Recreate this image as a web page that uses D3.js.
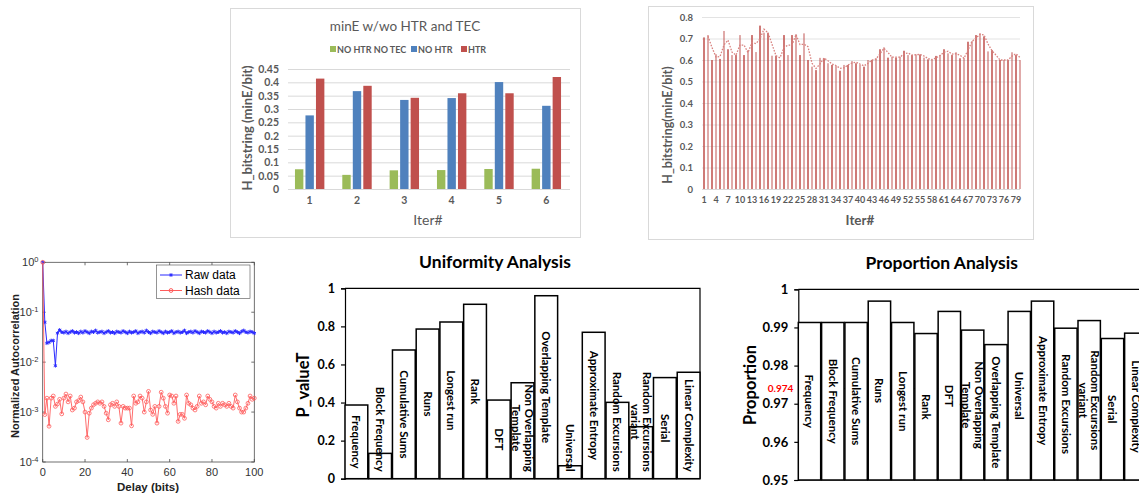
<!DOCTYPE html>
<html>
<head>
<meta charset="utf-8">
<script src="https://cdn.jsdelivr.net/npm/d3@7"></script>
<style>
  body { margin: 0; background: #fff; }
  svg { display: block; }
  .xl text { font-family: Lato, "Open Sans", sans-serif; }
  .ml text { font-family: "Liberation Sans", Arial, sans-serif; }
</style>
</head>
<body>
<svg id="fig" width="1139" height="495"></svg>
<script>
// ---- panel A : minE w/wo HTR and TEC
const minEIters = ['1', '2', '3', '4', '5', '6'];
const minESeriesNames = ['NO HTR NO TEC', 'NO HTR', 'HTR'];
const minENoHtrNoTec = [0.074, 0.053, 0.070, 0.071, 0.075, 0.076];
const minENoHtr = [0.276, 0.367, 0.334, 0.341, 0.401, 0.312];
const minEHtr = [0.414, 0.387, 0.342, 0.359, 0.359, 0.420];
const minETicks = [0, 0.05, 0.1, 0.15, 0.2, 0.25, 0.3, 0.35, 0.4, 0.45];

// ---- panel B : H_bitstring per iteration with HTR
const htrIters = d3.range(1, 81);
const htrMinE = [
  0.705, 0.716, 0.600, 0.627, 0.605, 0.735, 0.650, 0.623, 0.623, 0.716,
  0.623, 0.646, 0.716, 0.637, 0.760, 0.727, 0.727, 0.620, 0.620, 0.600,
  0.716, 0.623, 0.716, 0.720, 0.623, 0.724, 0.600, 0.569, 0.553, 0.610,
  0.608, 0.585, 0.577, 0.572, 0.550, 0.577, 0.577, 0.595, 0.585, 0.577,
  0.569, 0.600, 0.600, 0.608, 0.650, 0.659, 0.611, 0.615, 0.611, 0.615,
  0.643, 0.623, 0.623, 0.626, 0.626, 0.611, 0.603, 0.600, 0.619, 0.623,
  0.650, 0.631, 0.623, 0.636, 0.608, 0.608, 0.685, 0.688, 0.716, 0.724,
  0.710, 0.640, 0.646, 0.600, 0.600, 0.600, 0.600, 0.636, 0.623, 0.600
];
const htrTicks = [0, 0.1, 0.2, 0.3, 0.4, 0.5, 0.6, 0.7, 0.8];
const htrIterLabels = [1, 4, 7, 10, 13, 16, 19, 22, 25, 28, 31, 34, 37, 40, 43, 46, 49, 52, 55, 58, 61, 64, 67, 70, 73, 76, 79];

// ---- panel C : autocorrelation
const acDelays = d3.range(0, 101);
const acRaw = [
  1, 0.063, 0.024, 0.025, 0.027, 0.027, 0.0085, 0.038, 0.044,
  0.040, 0.039, 0.041, 0.038, 0.040, 0.042, 0.039, 0.040, 0.038, 0.041,
  0.039, 0.042, 0.040, 0.038, 0.041, 0.040, 0.043, 0.039, 0.040, 0.041,
  0.038, 0.040, 0.042, 0.039, 0.040, 0.038, 0.041, 0.040, 0.039, 0.042,
  0.040, 0.038, 0.041, 0.039, 0.040, 0.042, 0.038, 0.040, 0.041, 0.039,
  0.043, 0.040, 0.038, 0.041, 0.040, 0.039, 0.042, 0.040, 0.038, 0.041,
  0.039, 0.040, 0.042, 0.038, 0.040, 0.041, 0.039, 0.040, 0.043, 0.038,
  0.040, 0.041, 0.039, 0.042, 0.040, 0.038, 0.041, 0.040, 0.039, 0.042,
  0.040, 0.038, 0.041, 0.039, 0.040, 0.042, 0.039, 0.040, 0.038, 0.041,
  0.040, 0.039, 0.042, 0.040, 0.038, 0.041, 0.043, 0.040, 0.039, 0.041,
  0.040, 0.038
];
const acHash = [
  1,
  0.00089, 0.0019, 0.00052, 0.0019, 0.0021, 0.0013, 0.00145, 0.0018, 0.00092, 0.0019,
  0.0023, 0.0016, 0.0021, 0.0011, 0.0012, 0.0016, 0.0017, 0.0020, 0.0016, 0.0010,
  0.00031, 0.00095, 0.0012, 0.0014, 0.0015, 0.0016, 0.0015, 0.0016, 0.0013, 0.00095,
  0.0007, 0.0014, 0.0015, 0.0013, 0.0016, 0.0013, 0.0006, 0.0013, 0.0012, 0.0012,
  0.0012, 0.00053, 0.0021, 0.0015, 0.0016, 0.0021, 0.0019, 0.0010, 0.0016, 0.0026,
  0.0011, 0.0009, 0.0013, 0.0006, 0.0013, 0.0025, 0.0019, 0.0013, 0.00095, 0.0022,
  0.0021, 0.0015, 0.0021, 0.00065, 0.0009, 0.0009, 0.00075, 0.0022, 0.0015, 0.0014,
  0.0012, 0.0011, 0.0013, 0.0021, 0.0015, 0.0016, 0.0014, 0.0021, 0.0018, 0.0016,
  0.0013, 0.0012, 0.0015, 0.0013, 0.0015, 0.0014, 0.0013, 0.0015, 0.0013, 0.0012,
  0.0022, 0.0016, 0.0012, 0.0010, 0.0010, 0.0012, 0.0015, 0.0021, 0.0018, 0.0019
];
const acXTicks = [0, 20, 40, 60, 80, 100];
const acYExps = [-4, -3, -2, -1, 0];

// ---- panels D/E : NIST tests
const nistTests = ['Frequency', 'Block Frequency', 'Cumulative Sums', 'Runs', 'Longest run', 'Rank', 'DFT',
  'Non Overlapping Template', 'Overlapping Template', 'Universal', 'Approximate Entropy',
  'Random Excursions', 'Random Excursions variant', 'Serial', 'Linear Complexity'];
const nistWrapped = {
  'Non Overlapping Template': ['Non Overlapping', 'Template'],
  'Random Excursions variant': ['Random Excursions', 'variant']
};
const uniformityP = [0.387, 0.133, 0.676, 0.786, 0.823, 0.916, 0.413, 0.504, 0.961, 0.068, 0.769, 0.401, 0.273, 0.531, 0.559];
const uniformityTicks = [0, 0.2, 0.4, 0.6, 0.8, 1];
const proportion = [0.9913, 0.9913, 0.9913, 0.9969, 0.9913, 0.9884, 0.9942, 0.9893, 0.9855, 0.9942, 0.9969, 0.9898, 0.9918, 0.9871, 0.9885];
const proportionTicks = [0.95, 0.96, 0.97, 0.98, 0.99, 1];
const proportionMin = 0.974;

const svg = d3.select('#fig');
const excelGray = '#595959';

function drawMinE() {
  const g = svg.append('g').attr('class', 'xl');
  g.append('rect')
    .attr('x', 230.5).attr('y', 8.5).attr('width', 350).attr('height', 229)
    .attr('fill', '#fff').attr('stroke', '#d9d9d9');

  const x0 = d3.scaleBand().domain(minEIters).range([286, 570]);
  const x1 = d3.scaleBand().domain(minESeriesNames).range([-14.7, 14.7]).paddingInner(0.2);
  const y = d3.scaleLinear().domain([0, 0.45]).range([189, 69]);
  const color = d3.scaleOrdinal().domain(minESeriesNames).range(['#9bbb59', '#4f81bd', '#c0504d']);

  // grid
  g.append('g')
    .attr('transform', 'translate(288,0)')
    .call(d3.axisLeft(y).tickValues(minETicks).tickSize(-282).tickFormat(''))
    .call(a => a.select('.domain').remove())
    .call(a => a.selectAll('line').attr('stroke', '#d9d9d9'));

  g.append('g')
    .attr('transform', 'translate(288,0)')
    .call(d3.axisLeft(y).tickValues(minETicks).tickSize(0).tickPadding(9).tickFormat(d => String(d)))
    .call(a => a.select('.domain').remove())
    .call(a => a.selectAll('text').attr('fill', excelGray).style('font-size', '10.5px').style('font-weight', 'bold'));

  const series = [minENoHtrNoTec, minENoHtr, minEHtr];
  minESeriesNames.forEach((name, s) => {
    g.append('g').selectAll('rect')
      .data(series[s])
      .join('rect')
      .attr('x', (d, i) => x0(minEIters[i]) + x0.bandwidth() / 2 + x1(name))
      .attr('width', x1.bandwidth())
      .attr('y', d => y(d))
      .attr('height', d => y(0) - y(d))
      .attr('fill', color(name));
  });

  g.append('g')
    .attr('transform', 'translate(0,189)')
    .call(d3.axisBottom(x0).tickSize(0).tickPadding(8))
    .call(a => a.select('.domain').attr('stroke', '#d9d9d9').attr('d', 'M288,0.5H570'))
    .call(a => a.selectAll('text').attr('fill', excelGray).style('font-size', '10.5px').style('font-weight', 'bold'));

  g.append('text')
    .attr('x', 405).attr('y', 31)
    .attr('text-anchor', 'middle').attr('fill', excelGray)
    .style('font-size', '13.5px')
    .text('minE w/wo HTR and TEC');

  // legend
  const legX = [330, 411, 461];
  minESeriesNames.forEach((name, s) => {
    g.append('rect').attr('x', legX[s]).attr('y', 46).attr('width', 6).attr('height', 6).attr('fill', color(name));
    g.append('text').attr('x', legX[s] + 7).attr('y', 52.5)
      .attr('fill', excelGray).style('font-size', '9px').style('font-weight', 'bold')
      .text(name);
  });

  g.append('text')
    .attr('transform', 'translate(252,128) rotate(-90)')
    .attr('text-anchor', 'middle').attr('fill', excelGray)
    .style('font-size', '13px').style('font-weight', 'bold')
    .text('H_bitstring (minE/bit)');

  g.append('text')
    .attr('x', 428).attr('y', 225)
    .attr('text-anchor', 'middle').attr('fill', excelGray)
    .style('font-size', '14px')
    .text('Iter#');
}

function drawHtr() {
  const g = svg.append('g').attr('class', 'xl');
  g.append('rect')
    .attr('x', 648.5).attr('y', 6.5).attr('width', 385).attr('height', 233)
    .attr('fill', '#fff').attr('stroke', '#d9d9d9');

  const x = d3.scaleBand().domain(htrIters).range([702, 1022]);
  const y = d3.scaleLinear().domain([0, 0.8]).range([189, 17]);

  g.append('g')
    .attr('transform', 'translate(702,0)')
    .call(d3.axisLeft(y).tickValues(htrTicks).tickSize(-318).tickFormat(''))
    .call(a => a.select('.domain').remove())
    .call(a => a.selectAll('line').attr('stroke', '#e3e3e3'));

  g.append('g')
    .attr('transform', 'translate(702,0)')
    .call(d3.axisLeft(y).tickValues(htrTicks).tickSize(0).tickPadding(9).tickFormat(d => String(d)))
    .call(a => a.select('.domain').remove())
    .call(a => a.selectAll('text').attr('fill', excelGray).style('font-size', '9.5px').style('font-weight', 'bold'));

  g.append('g').selectAll('rect')
    .data(htrMinE)
    .join('rect')
    .attr('x', (d, i) => x(htrIters[i]) + x.bandwidth() / 2 - 0.8)
    .attr('width', 1.6)
    .attr('y', d => y(d))
    .attr('height', d => y(0) - y(d))
    .attr('fill', '#c0504d')
    .attr('opacity', (d, i) => i % 2 ? 0.6 : 0.95);

  // 2-period moving average trendline
  const avg = htrMinE.map((v, i) => i ? (v + htrMinE[i - 1]) / 2 : null);
  g.append('path')
    .datum(avg)
    .attr('fill', 'none')
    .attr('stroke', '#d9827f')
    .attr('stroke-width', 1.3)
    .attr('stroke-dasharray', '1.6,1.4')
    .attr('d', d3.line()
      .defined(d => d !== null)
      .x((d, i) => x(htrIters[i]) + x.bandwidth() / 2)
      .y(d => y(d)));

  g.append('g')
    .attr('transform', 'translate(0,189)')
    .call(d3.axisBottom(x).tickValues(htrIterLabels).tickSize(0).tickPadding(8))
    .call(a => a.select('.domain').attr('stroke', '#d9d9d9').attr('d', 'M702,0.5H1020'))
    .call(a => a.selectAll('text').attr('fill', excelGray).style('font-size', '9px').style('font-weight', 'bold'));

  g.append('text')
    .attr('transform', 'translate(672,125) rotate(-90)')
    .attr('text-anchor', 'middle').attr('fill', excelGray)
    .style('font-size', '12.5px').style('font-weight', 'bold')
    .text('H_bitstring(minE/bit)');

  g.append('text')
    .attr('x', 860).attr('y', 225)
    .attr('text-anchor', 'middle').attr('fill', excelGray)
    .style('font-size', '13.5px').style('font-weight', 'bold')
    .text('Iter#');
}

function drawAutocorr() {
  const g = svg.append('g').attr('class', 'ml');
  const L = 42.7, R = 254.3, T = 262.3, B = 462;
  const x = d3.scaleLinear().domain([0, 100]).range([L, R]);
  const y = d3.scaleLog().domain([1e-4, 1]).range([B, T]);
  const axisColor = '#4d4d4d';

  g.append('rect').attr('x', L).attr('y', T).attr('width', R - L).attr('height', B - T)
    .attr('fill', '#fff').attr('stroke', axisColor).attr('stroke-width', 0.8);

  // inner ticks on all four sides
  const tk = g.append('g').attr('stroke', axisColor).attr('stroke-width', 0.8);
  acXTicks.forEach(v => {
    tk.append('line').attr('x1', x(v)).attr('x2', x(v)).attr('y1', B).attr('y2', B - 3);
    tk.append('line').attr('x1', x(v)).attr('x2', x(v)).attr('y1', T).attr('y2', T + 3);
  });
  acYExps.forEach(e => {
    const yy = y(Math.pow(10, e));
    tk.append('line').attr('x1', L).attr('x2', L + 3).attr('y1', yy).attr('y2', yy);
    tk.append('line').attr('x1', R).attr('x2', R - 3).attr('y1', yy).attr('y2', yy);
  });

  g.append('g').selectAll('text')
    .data(acXTicks)
    .join('text')
    .attr('x', d => x(d)).attr('y', 475.5)
    .attr('text-anchor', 'middle').attr('fill', '#333')
    .style('font-size', '11px')
    .text(d => d);

  acYExps.forEach(e => {
    const t = g.append('text')
      .attr('x', 38.5).attr('y', y(Math.pow(10, e)) + 4)
      .attr('text-anchor', 'end').attr('fill', '#333')
      .style('font-size', '11px');
    t.append('tspan').text('10');
    t.append('tspan').attr('dy', -4.5).style('font-size', '7.5px').text(e);
  });

  const raw = acDelays.map((d, i) => [d, acRaw[i]]);
  const hash = acDelays.map((d, i) => [d, acHash[i]]);
  const line = d3.line().x(d => x(d[0])).y(d => y(d[1]));
  const star = d3.symbolAsterisk || d3.symbolCross;

  g.append('path').datum(raw)
    .attr('fill', 'none').attr('stroke', '#2a2aff').attr('stroke-width', 1)
    .attr('d', line);
  g.append('g').selectAll('path')
    .data(raw)
    .join('path')
    .attr('transform', d => `translate(${x(d[0])},${y(d[1])})`)
    .attr('d', d3.symbol(star, 10))
    .attr('fill', 'none').attr('stroke', '#2a2aff').attr('stroke-width', 1);

  g.append('path').datum(hash)
    .attr('fill', 'none').attr('stroke', '#ff5c5c').attr('stroke-width', 0.9)
    .attr('d', line);
  g.append('g').selectAll('circle')
    .data(hash)
    .join('circle')
    .attr('cx', d => x(d[0])).attr('cy', d => y(d[1])).attr('r', 1.9)
    .attr('fill', 'none').attr('stroke', '#ff5c5c').attr('stroke-width', 0.8);

  // legend
  const lg = g.append('g');
  lg.append('rect').attr('x', 156.5).attr('y', 265).attr('width', 93.5).attr('height', 33.5)
    .attr('fill', '#fff').attr('stroke', axisColor).attr('stroke-width', 0.6);
  lg.append('line').attr('x1', 160).attr('x2', 182).attr('y1', 275).attr('y2', 275)
    .attr('stroke', '#2a2aff');
  lg.append('path').attr('transform', 'translate(171,275)').attr('d', d3.symbol(star, 10))
    .attr('fill', 'none').attr('stroke', '#2a2aff');
  lg.append('line').attr('x1', 160).attr('x2', 182).attr('y1', 290.5).attr('y2', 290.5)
    .attr('stroke', '#ff5c5c');
  lg.append('circle').attr('cx', 171).attr('cy', 290.5).attr('r', 1.9)
    .attr('fill', 'none').attr('stroke', '#ff5c5c');
  lg.append('text').attr('x', 185).attr('y', 279.3).style('font-size', '12px').attr('fill', '#000').text('Raw data');
  lg.append('text').attr('x', 185).attr('y', 295).style('font-size', '12px').attr('fill', '#000').text('Hash data');

  g.append('text')
    .attr('transform', 'translate(19,366) rotate(-90)')
    .attr('text-anchor', 'middle').attr('fill', '#222')
    .style('font-size', '11px').style('font-weight', 'bold')
    .text('Normalized Autocorrelation');

  g.append('text')
    .attr('x', 148).attr('y', 491)
    .attr('text-anchor', 'middle').attr('fill', '#222')
    .style('font-size', '11.5px').style('font-weight', 'bold')
    .text('Delay (bits)');
}

function nistPanel(cfg) {
  const g = svg.append('g').attr('class', 'xl');
  const x = d3.scaleBand().domain(nistTests).range([cfg.left, cfg.right]).paddingInner(0.04);
  const y = d3.scaleLinear().domain(cfg.domain).range([cfg.bottom, cfg.top]);
  const base = cfg.domain[0];

  g.append('text')
    .attr('x', cfg.titleX).attr('y', cfg.titleY)
    .attr('text-anchor', 'middle').attr('fill', '#000')
    .style('font-size', '17.5px').style('font-weight', 'bold')
    .text(cfg.title);

  g.append('path')
    .attr('d', `M${cfg.left},${cfg.top}H${cfg.right}V${cfg.bottom}`)
    .attr('fill', 'none').attr('stroke', '#000').attr('stroke-width', 1.2);

  g.append('g')
    .attr('transform', `translate(${cfg.left},0)`)
    .call(d3.axisLeft(y).tickValues(cfg.ticks).tickSize(4).tickPadding(6).tickFormat(d => String(d)))
    .call(a => a.select('.domain').attr('stroke-width', 1.2))
    .call(a => a.selectAll('line').attr('stroke-width', 1.2))
    .call(a => a.selectAll('text').attr('fill', '#000').style('font-size', cfg.tickSize).style('font-weight', 'bold'));

  g.append('line')
    .attr('x1', cfg.left).attr('x2', cfg.right).attr('y1', cfg.bottom).attr('y2', cfg.bottom)
    .attr('stroke', '#000').attr('stroke-width', 1.2);

  if (cfg.threshold !== undefined) {
    g.append('line')
      .attr('x1', cfg.left).attr('x2', cfg.right).attr('y1', y(cfg.threshold)).attr('y2', y(cfg.threshold))
      .attr('stroke', '#000').attr('stroke-width', 1).attr('stroke-dasharray', '3,2');
    g.append('text')
      .attr('x', cfg.left - 5).attr('y', y(cfg.threshold) + 3.5)
      .attr('text-anchor', 'end').attr('fill', '#ff0000')
      .style('font-size', '10px').style('font-weight', 'bold')
      .text(cfg.threshold);
  }

  g.append('g').selectAll('rect')
    .data(cfg.values)
    .join('rect')
    .attr('x', (d, i) => x(nistTests[i]))
    .attr('width', x.bandwidth())
    .attr('y', d => y(d))
    .attr('height', d => y(base) - y(d))
    .attr('fill', '#fff').attr('stroke', '#000').attr('stroke-width', 1.5);

  // category names as data labels, centred on the bar, kept inside the plot
  nistTests.forEach((name, i) => {
    const lines = nistWrapped[name] || [name];
    const cx = x(name) + x.bandwidth() / 2;
    let cy = (y(cfg.values[i]) + y(base)) / 2;
    const t = g.append('text')
      .attr('text-anchor', 'middle').attr('fill', '#000')
      .style('font-size', '11.5px').style('font-weight', 'bold');
    lines.forEach((ln, k) => {
      t.append('tspan').attr('x', 0)
        .attr('y', `${0.35 + (k - (lines.length - 1) / 2) * 1.1}em`)
        .text(ln);
    });
    const w = d3.max(t.selectAll('tspan').nodes(), n => n.getComputedTextLength());
    if (cy + w / 2 > cfg.bottom - 7) cy = cfg.bottom - 7 - w / 2;
    if (cy - w / 2 < cfg.top + 3) cy = cfg.top + 3 + w / 2;
    t.attr('transform', `translate(${cx},${cy}) rotate(90)`);
  });

  g.append('text')
    .attr('transform', `translate(${cfg.ylabelX},385) rotate(-90)`)
    .attr('text-anchor', 'middle').attr('fill', '#000')
    .style('font-size', '16.5px').style('font-weight', 'bold')
    .text(cfg.ylabel);
}

drawMinE();
drawHtr();
drawAutocorr();
nistPanel({
  title: 'Uniformity Analysis', titleX: 495, titleY: 268,
  left: 345, right: 700, top: 288.3, bottom: 478.7,
  domain: [0, 1], ticks: uniformityTicks, tickSize: '12.5px',
  values: uniformityP, ylabel: 'P_valueT', ylabelX: 309
});
nistPanel({
  title: 'Proportion Analysis', titleX: 941.7, titleY: 269,
  left: 798.3, right: 1147, top: 289.3, bottom: 480,
  domain: [0.95, 1], ticks: proportionTicks, tickSize: '13px',
  values: proportion, threshold: proportionMin, ylabel: 'Proportion', ylabelX: 756
});
</script>
</body>
</html>
